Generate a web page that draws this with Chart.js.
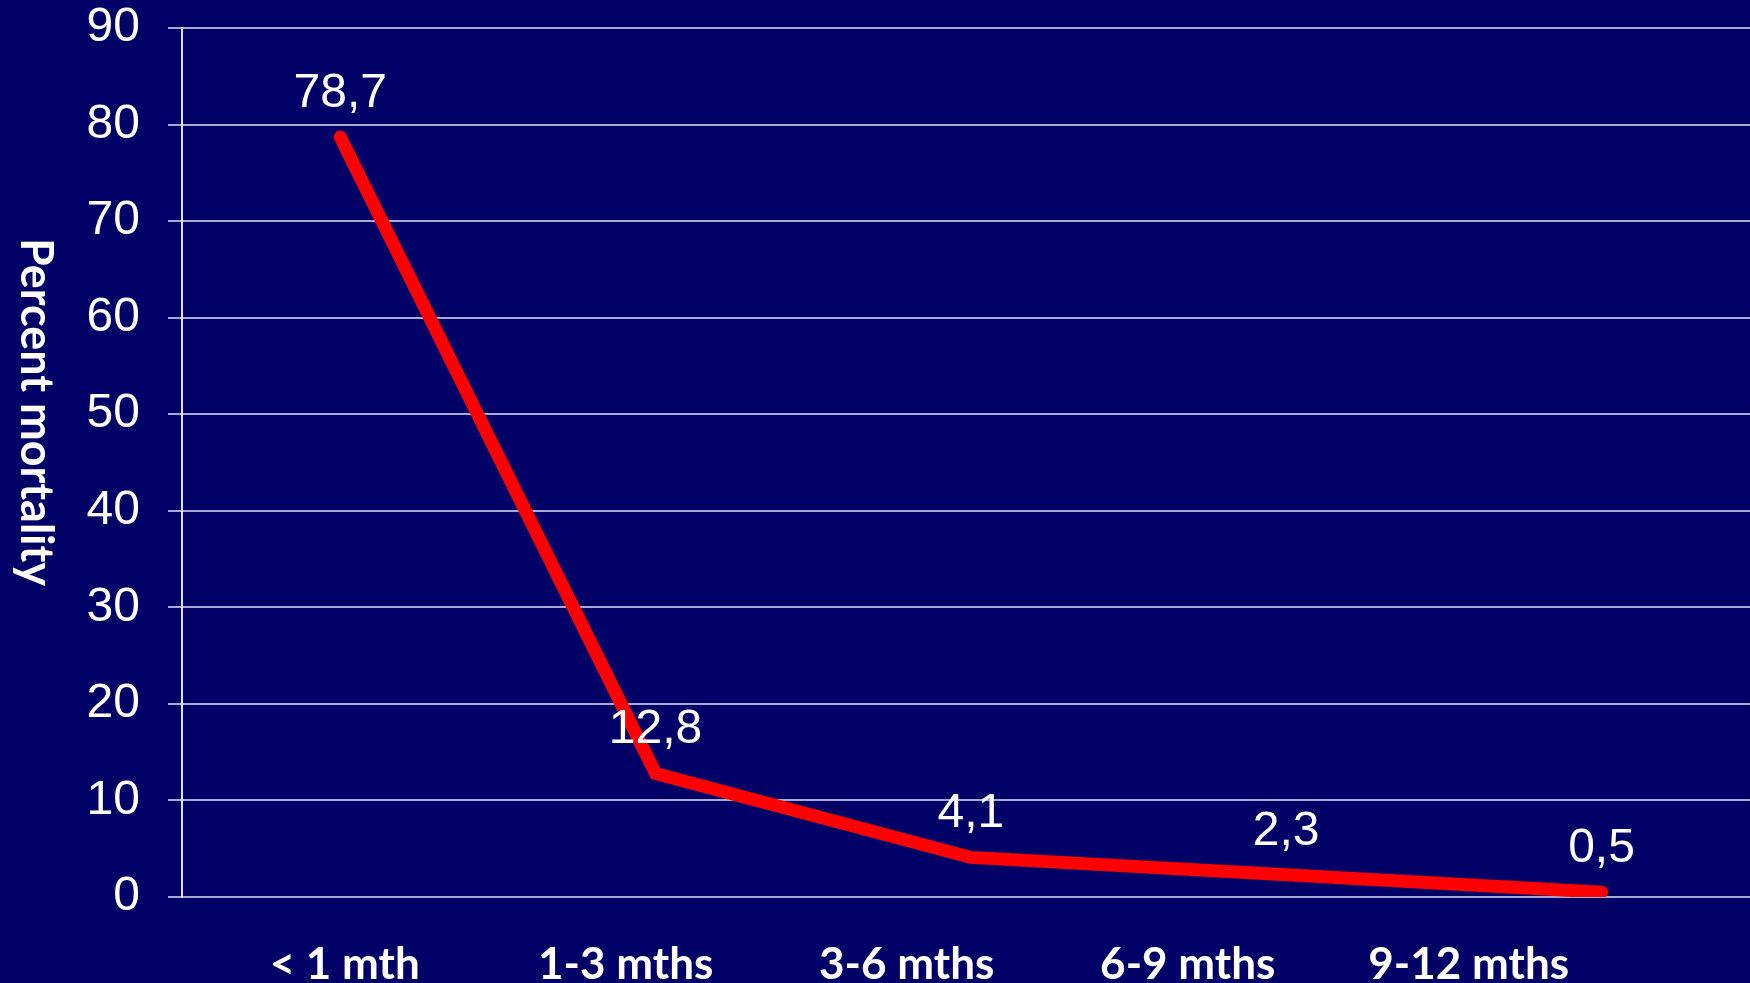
<!DOCTYPE html>
<html>
<head>
<meta charset="utf-8">
<title>Percent mortality by age</title>
<script src="https://cdn.jsdelivr.net/npm/chart.js@4.4.0/dist/chart.umd.min.js"></script>
<style>
  html, body { margin: 0; padding: 0; background: #000066; }
  canvas { display: block; }
</style>
</head>
<body>
<canvas id="chart" width="1750" height="983"></canvas>
<script>
// Age groups and percent mortality per group
const categories = ['< 1 mth', '1-3 mths', '3-6 mths', '6-9 mths', '9-12 mths'];
const mortality = [78.7, 12.8, 4.1, 2.3, 0.5];
const yAxisTitle = 'Percent mortality';

const NAVY = '#000066';
const GRID = '#a8a8d0';

// Paint the slide background
const backgroundPlugin = {
  id: 'background',
  beforeDraw(chart) {
    const { ctx, width, height } = chart;
    ctx.save();
    ctx.fillStyle = NAVY;
    ctx.fillRect(0, 0, width, height);
    ctx.restore();
  }
};

// Value labels above each point, with a decimal comma
const valueLabelPlugin = {
  id: 'valueLabels',
  afterDatasetsDraw(chart) {
    const { ctx } = chart;
    const meta = chart.getDatasetMeta(0);
    ctx.save();
    ctx.fillStyle = '#ffffff';
    ctx.font = '48px "Liberation Sans", Arial, sans-serif';
    ctx.textAlign = 'center';
    ctx.textBaseline = 'alphabetic';
    meta.data.forEach((pt, i) => {
      const text = mortality[i].toFixed(1).replace('.', ',');
      ctx.fillText(text, pt.x, pt.y - 30);
    });
    ctx.restore();
  }
};

// Vertical axis title, reading top to bottom
const yTitlePlugin = {
  id: 'yTitle',
  afterDraw(chart) {
    const { ctx } = chart;
    ctx.save();
    ctx.fillStyle = '#ffffff';
    ctx.font = 'bold 45px Lato, "Open Sans", sans-serif';
    ctx.textAlign = 'center';
    ctx.textBaseline = 'alphabetic';
    ctx.translate(21, 412);
    ctx.rotate(Math.PI / 2);
    ctx.fillText(yAxisTitle, 0, 0);
    ctx.restore();
  }
};

const points = categories.map((c, i) => ({ x: i, y: mortality[i] }));

new Chart(document.getElementById('chart'), {
  type: 'line',
  data: {
    datasets: [{
      data: points,
      borderColor: '#ff0000',
      borderWidth: 13,
      borderCapStyle: 'round',
      borderJoinStyle: 'miter',
      pointRadius: 0,
      tension: 0,
      xAxisID: 'x',
      yAxisID: 'y'
    }]
  },
  options: {
    responsive: false,
    animation: false,
    layout: { padding: { top: 28, right: 0, bottom: 0, left: 0 } },
    plugins: {
      legend: { display: false },
      tooltip: { enabled: false }
    },
    scales: {
      x: {
        type: 'linear',
        display: false,
        min: -0.502,
        max: 4.471
      },
      xl: {
        type: 'linear',
        position: 'bottom',
        min: -0.579,
        max: 5.001,
        grid: { display: false, drawTicks: false },
        border: { display: false },
        afterBuildTicks(scale) {
          scale.ticks = categories.map((c, i) => ({ value: i }));
        },
        afterFit(scale) {
          scale.height = 86;
          scale.paddingLeft = 0;
          scale.paddingRight = 0;
        },
        ticks: {
          autoSkip: false,
          maxRotation: 0,
          padding: 41,
          color: '#ffffff',
          font: { family: 'Lato, "Open Sans", sans-serif', size: 44, weight: 'bold', lineHeight: 1.2 },
          callback: (value) => categories[value]
        }
      },
      y: {
        min: 0,
        max: 90,
        afterFit(scale) {
          scale.width = 182;
          scale.paddingTop = 0;
          scale.paddingBottom = 0;
        },
        grid: {
          color: GRID,
          lineWidth: 2,
          tickLength: 14,
          drawTicks: true
        },
        border: { display: true, color: '#e0e0f0', width: 2 },
        ticks: {
          stepSize: 10,
          padding: 28,
          color: '#ffffff',
          font: { family: '"Liberation Sans", Arial, sans-serif', size: 48, lineHeight: 1.0 }
        }
      }
    }
  },
  plugins: [backgroundPlugin, valueLabelPlugin, yTitlePlugin]
});
</script>
</body>
</html>
